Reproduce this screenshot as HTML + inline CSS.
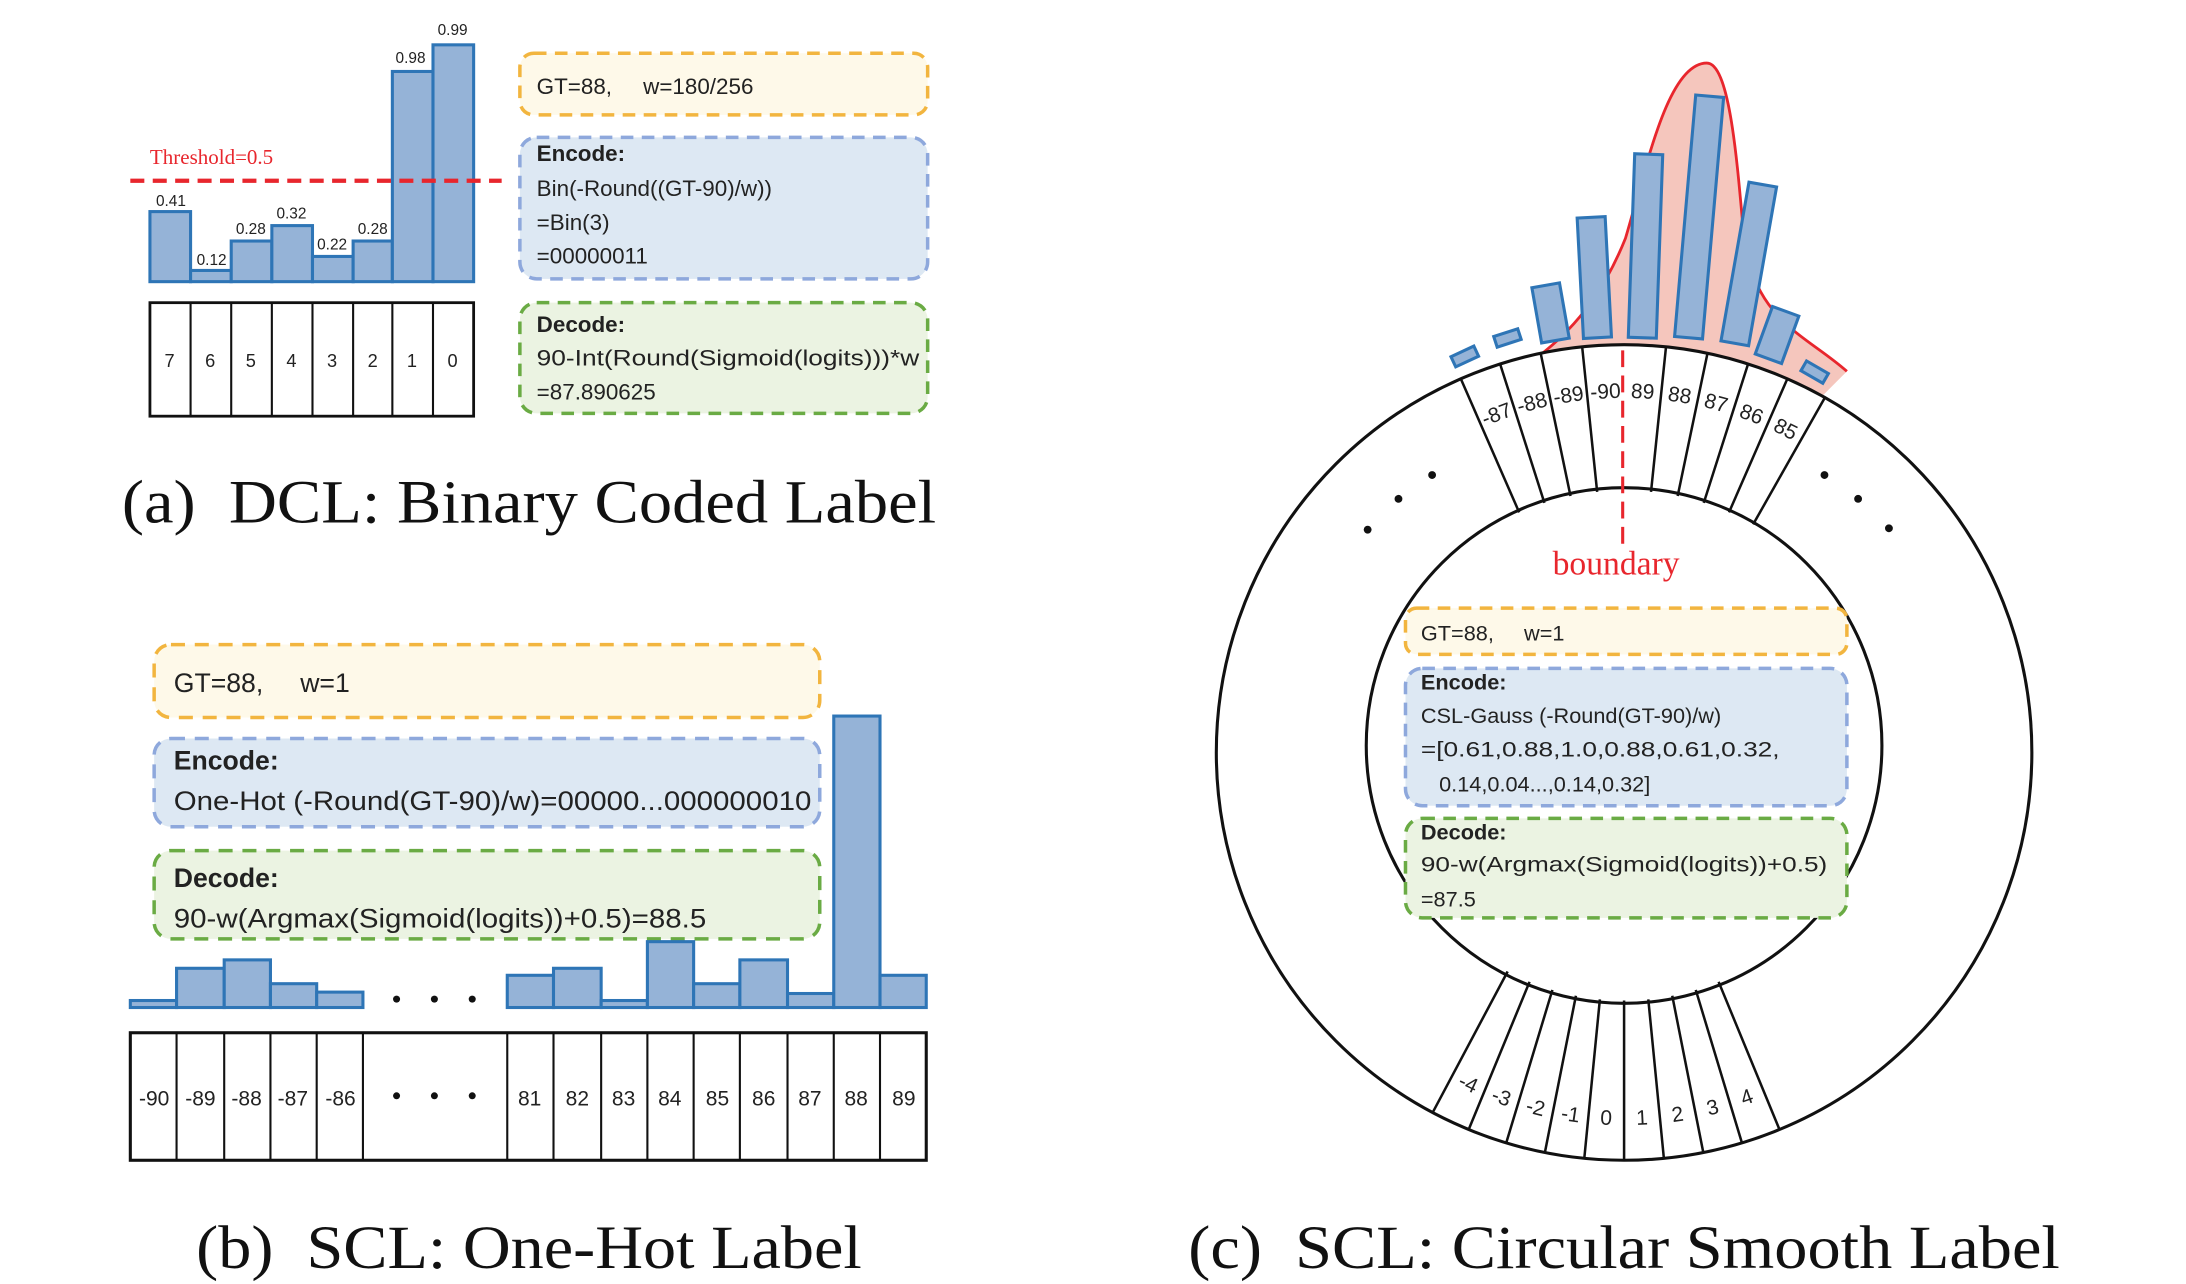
<!DOCTYPE html>
<html><head><meta charset="utf-8"><style>
html,body{margin:0;padding:0;background:#fff;}
svg{display:block;}
.c{font-family:"Liberation Sans",sans-serif;fill:#222;}
.s{font-family:"Liberation Serif",serif;fill:#111;}
</style></head><body>
<svg width="2186" height="1284" viewBox="0 0 1560 916.3" preserveAspectRatio="none" xmlns="http://www.w3.org/2000/svg">
<rect width="1560" height="917" fill="#fff"/>
<!-- (a) -->
<g fill="#95b3d7" stroke="#2e75b6" stroke-width="2.2">
<rect x="107" y="151" width="29" height="50"/>
<rect x="136" y="193" width="29" height="8"/>
<rect x="165" y="172" width="29" height="29"/>
<rect x="194" y="161" width="29" height="40"/>
<rect x="223" y="183" width="29" height="18"/>
<rect x="252" y="172" width="28" height="29"/>
<rect x="280" y="51" width="29" height="150"/>
<rect x="309" y="32" width="29" height="169"/>
</g>
<g class="c" font-size="11" text-anchor="middle">
<text x="122" y="147">0.41</text><text x="151" y="189">0.12</text><text x="179" y="167">0.28</text><text x="208" y="156">0.32</text><text x="237" y="178">0.22</text><text x="266" y="167">0.28</text><text x="293" y="45">0.98</text><text x="323" y="25">0.99</text>
</g>
<line x1="93" y1="129" x2="358" y2="129" stroke="#e8262d" stroke-width="3" stroke-dasharray="10,6"/>
<text x="107" y="117" font-family="Liberation Serif,serif" font-size="15" fill="#e8262d">Threshold=0.5</text>
<rect x="107" y="216" width="231" height="81" fill="none" stroke="#111" stroke-width="2"/>
<g stroke="#111" stroke-width="1.5"><line x1="136" y1="216" x2="136" y2="297"/><line x1="165" y1="216" x2="165" y2="297"/><line x1="194" y1="216" x2="194" y2="297"/><line x1="223" y1="216" x2="223" y2="297"/><line x1="252" y1="216" x2="252" y2="297"/><line x1="280" y1="216" x2="280" y2="297"/><line x1="309" y1="216" x2="309" y2="297"/></g>
<g class="c" font-size="13" text-anchor="middle"><text x="121" y="262">7</text><text x="150" y="262">6</text><text x="179" y="262">5</text><text x="208" y="262">4</text><text x="237" y="262">3</text><text x="266" y="262">2</text><text x="294" y="262">1</text><text x="323" y="262">0</text></g>
<rect x="371" y="38" width="291" height="44" rx="10" fill="#fef9e9" stroke="#f2b53f" stroke-width="2.5" stroke-dasharray="9,6"/>
<rect x="371" y="98" width="291" height="101" rx="12" fill="#dde8f3" stroke="#8ea8dc" stroke-width="2.5" stroke-dasharray="9,6"/>
<rect x="371" y="216" width="291" height="79" rx="12" fill="#ebf3e2" stroke="#6aab44" stroke-width="2.5" stroke-dasharray="9,6"/>
<g class="c" font-size="16">
<text x="383" y="67">GT=88,&#160;&#160;&#160;&#160;&#160;w=180/256</text>
<text x="383" y="115" font-weight="bold">Encode:</text>
<text x="383" y="140">Bin(-Round((GT-90)/w))</text>
<text x="383" y="164">=Bin(3)</text>
<text x="383" y="188">=00000011</text>
<text x="383" y="237" font-weight="bold">Decode:</text>
<text x="383" y="261" textLength="273" lengthAdjust="spacingAndGlyphs">90-Int(Round(Sigmoid(logits)))*w</text>
<text x="383" y="285">=87.890625</text>
</g>
<text class="s" x="87" y="373" font-size="44" textLength="581" lengthAdjust="spacingAndGlyphs">(a)&#160; DCL: Binary Coded Label</text>

<!-- (b) -->
<rect x="110" y="460" width="475" height="52" rx="12" fill="#fef9e9" stroke="#f2b53f" stroke-width="2.5" stroke-dasharray="10,7"/>
<rect x="110" y="527" width="475" height="63" rx="12" fill="#dde8f3" stroke="#8ea8dc" stroke-width="2.5" stroke-dasharray="10,7"/>
<rect x="110" y="607" width="475" height="63" rx="12" fill="#ebf3e2" stroke="#6aab44" stroke-width="2.5" stroke-dasharray="10,7"/>
<g class="c" font-size="19">
<text x="124" y="494">GT=88,&#160;&#160;&#160;&#160;&#160;w=1</text>
<text x="124" y="549" font-weight="bold">Encode:</text>
<text x="124" y="578" textLength="455" lengthAdjust="spacingAndGlyphs">One-Hot (-Round(GT-90)/w)=00000...000000010</text>
<text x="124" y="633" font-weight="bold">Decode:</text>
<text x="124" y="662" textLength="380" lengthAdjust="spacingAndGlyphs">90-w(Argmax(Sigmoid(logits))+0.5)=88.5</text>
</g>
<g fill="#95b3d7" stroke="#2e75b6" stroke-width="2.2">
<rect x="93" y="714" width="33" height="5"/><rect x="126" y="691" width="34" height="28"/><rect x="160" y="685" width="33" height="34"/><rect x="193" y="702" width="33" height="17"/><rect x="226" y="708" width="33" height="11"/>
<rect x="362" y="696" width="33" height="23"/><rect x="395" y="691" width="34" height="28"/><rect x="429" y="714" width="33" height="5"/><rect x="462" y="672" width="33" height="47"/><rect x="495" y="702" width="33" height="17"/><rect x="528" y="685" width="34" height="34"/><rect x="562" y="709" width="33" height="10"/><rect x="595" y="511" width="33" height="208"/><rect x="628" y="696" width="33" height="23"/>
</g>
<g fill="#111"><circle cx="283" cy="713" r="2.5"/><circle cx="310" cy="713" r="2.5"/><circle cx="337" cy="713" r="2.5"/>
<circle cx="283" cy="782" r="2.5"/><circle cx="310" cy="782" r="2.5"/><circle cx="337" cy="782" r="2.5"/></g>
<rect x="93" y="737" width="568" height="91" fill="none" stroke="#111" stroke-width="2.2"/>
<g stroke="#111" stroke-width="1.5">
<line x1="126" y1="737" x2="126" y2="828"/><line x1="160" y1="737" x2="160" y2="828"/><line x1="193" y1="737" x2="193" y2="828"/><line x1="226" y1="737" x2="226" y2="828"/><line x1="259" y1="737" x2="259" y2="828"/>
<line x1="362" y1="737" x2="362" y2="828"/><line x1="395" y1="737" x2="395" y2="828"/><line x1="429" y1="737" x2="429" y2="828"/><line x1="462" y1="737" x2="462" y2="828"/><line x1="495" y1="737" x2="495" y2="828"/><line x1="528" y1="737" x2="528" y2="828"/><line x1="562" y1="737" x2="562" y2="828"/><line x1="595" y1="737" x2="595" y2="828"/><line x1="628" y1="737" x2="628" y2="828"/>
</g>
<g class="c" font-size="15" text-anchor="middle">
<text x="110" y="789">-90</text><text x="143" y="789">-89</text><text x="176" y="789">-88</text><text x="209" y="789">-87</text><text x="243" y="789">-86</text>
<text x="378" y="789">81</text><text x="412" y="789">82</text><text x="445" y="789">83</text><text x="478" y="789">84</text><text x="512" y="789">85</text><text x="545" y="789">86</text><text x="578" y="789">87</text><text x="611" y="789">88</text><text x="645" y="789">89</text>
</g>
<text class="s" x="140" y="905" font-size="44" textLength="475" lengthAdjust="spacingAndGlyphs">(b)&#160; SCL: One-Hot Label</text>

<!-- (c) -->
<path d="M1097,255 C1130,230 1148,200 1160,170 C1175,120 1190,45 1218,45 C1235,45 1240,120 1245,175 C1255,230 1290,240 1318,265 L1300,283 L1290,277 L1230,255 L1159,246 L1100,252 Z" fill="#f2b8ad" opacity="0.8"/>
<path d="M1097,255 C1130,230 1148,200 1160,170 C1175,120 1190,45 1218,45 C1235,45 1240,120 1245,175 C1255,230 1290,240 1318,265" fill="none" stroke="#e8262d" stroke-width="2"/>
<circle cx="1159" cy="537" r="291" fill="#fff" stroke="#111" stroke-width="2.2"/>
<circle cx="1159" cy="532" r="184" fill="#fff" stroke="#111" stroke-width="2.2"/>
<!-- bars on top -->
<g fill="#95b3d7" stroke="#2e75b6" stroke-width="2.2">
<rect x="1038" y="250" width="18" height="8" transform="rotate(-25 1047 258)"/>
<rect x="1068" y="237" width="18" height="8" transform="rotate(-18 1077 245)"/>
<rect x="1100" y="203" width="20" height="40" transform="rotate(-10 1110 243)"/>
<rect x="1130" y="155" width="20" height="86" transform="rotate(-3 1140 241)"/>
<rect x="1162" y="110" width="20" height="131" transform="rotate(2 1172 241)"/>
<rect x="1195" y="68" width="20" height="173" transform="rotate(5 1205 241)"/>
<rect x="1228" y="130" width="20" height="115" transform="rotate(10 1238 245)"/>
<rect x="1252" y="220" width="20" height="36" transform="rotate(20 1262 256)"/>
<rect x="1284" y="261" width="18" height="8" transform="rotate(30 1293 269)"/>
</g>
<!-- top cells -->
<g stroke="#111" stroke-width="1.8">
<line x1="1159" y1="350" x2="1159" y2="246" transform="rotate(-23.6 1159 537)"/>
<line x1="1159" y1="350" x2="1159" y2="246" transform="rotate(-17.7 1159 537)"/>
<line x1="1159" y1="350" x2="1159" y2="246" transform="rotate(-11.8 1159 537)"/>
<line x1="1159" y1="350" x2="1159" y2="246" transform="rotate(-5.9 1159 537)"/>
<line x1="1159" y1="350" x2="1159" y2="246" transform="rotate(5.9 1159 537)"/>
<line x1="1159" y1="350" x2="1159" y2="246" transform="rotate(11.8 1159 537)"/>
<line x1="1159" y1="350" x2="1159" y2="246" transform="rotate(17.7 1159 537)"/>
<line x1="1159" y1="350" x2="1159" y2="246" transform="rotate(23.6 1159 537)"/>
<line x1="1159" y1="350" x2="1159" y2="246" transform="rotate(29.5 1159 537)"/>
</g>
<g class="c" font-size="15" text-anchor="middle">
<text x="1159" y="284" transform="rotate(-20.65 1159 537)">-87</text>
<text x="1159" y="284" transform="rotate(-14.75 1159 537)">-88</text>
<text x="1159" y="284" transform="rotate(-8.85 1159 537)">-89</text>
<text x="1159" y="284" transform="rotate(-2.95 1159 537)">-90</text>
<text x="1159" y="284" transform="rotate(2.95 1159 537)">89</text>
<text x="1159" y="284" transform="rotate(8.85 1159 537)">88</text>
<text x="1159" y="284" transform="rotate(14.75 1159 537)">87</text>
<text x="1159" y="284" transform="rotate(20.65 1159 537)">86</text>
<text x="1159" y="284" transform="rotate(26.55 1159 537)">85</text>
</g>
<line x1="1158" y1="250" x2="1158" y2="390" stroke="#e8262d" stroke-width="2.2" stroke-dasharray="12,6"/>
<text x="1108" y="410" font-family="Liberation Serif,serif" font-size="24" fill="#e8262d">boundary</text>
<g fill="#111"><circle cx="976" cy="378" r="2.8"/><circle cx="998" cy="356" r="2.8"/><circle cx="1022" cy="339" r="2.8"/><circle cx="1302" cy="339" r="2.8"/><circle cx="1326" cy="356" r="2.8"/><circle cx="1348" cy="377" r="2.8"/></g>
<!-- bottom cells -->
<g stroke="#111" stroke-width="1.8">
<line x1="1159" y1="714" x2="1159" y2="828" transform="rotate(28 1159 537)"/>
<line x1="1159" y1="714" x2="1159" y2="828" transform="rotate(22.4 1159 537)"/>
<line x1="1159" y1="714" x2="1159" y2="828" transform="rotate(16.8 1159 537)"/>
<line x1="1159" y1="714" x2="1159" y2="828" transform="rotate(11.2 1159 537)"/>
<line x1="1159" y1="714" x2="1159" y2="828" transform="rotate(5.6 1159 537)"/>
<line x1="1159" y1="714" x2="1159" y2="828" transform="rotate(0 1159 537)"/>
<line x1="1159" y1="714" x2="1159" y2="828" transform="rotate(-5.6 1159 537)"/>
<line x1="1159" y1="714" x2="1159" y2="828" transform="rotate(-11.2 1159 537)"/>
<line x1="1159" y1="714" x2="1159" y2="828" transform="rotate(-16.8 1159 537)"/>
<line x1="1159" y1="714" x2="1159" y2="828" transform="rotate(-22.4 1159 537)"/>
</g>
<g class="c" font-size="15" text-anchor="middle">
<text x="1159" y="803" transform="rotate(25.2 1159 537)">-4</text>
<text x="1159" y="803" transform="rotate(19.6 1159 537)">-3</text>
<text x="1159" y="803" transform="rotate(14 1159 537)">-2</text>
<text x="1159" y="803" transform="rotate(8.4 1159 537)">-1</text>
<text x="1159" y="803" transform="rotate(2.8 1159 537)">0</text>
<text x="1159" y="803" transform="rotate(-2.8 1159 537)">1</text>
<text x="1159" y="803" transform="rotate(-8.4 1159 537)">2</text>
<text x="1159" y="803" transform="rotate(-14 1159 537)">3</text>
<text x="1159" y="803" transform="rotate(-19.6 1159 537)">4</text>
</g>
<rect x="1003" y="434" width="315" height="33" rx="8" fill="#fef9e9" stroke="#f2b53f" stroke-width="2.5" stroke-dasharray="9,6"/>
<rect x="1003" y="477" width="315" height="98" rx="12" fill="#dde8f3" stroke="#8ea8dc" stroke-width="2.5" stroke-dasharray="9,6"/>
<rect x="1003" y="584" width="315" height="71" rx="12" fill="#ebf3e2" stroke="#6aab44" stroke-width="2.5" stroke-dasharray="9,6"/>
<g class="c" font-size="15.5">
<text x="1014" y="457">GT=88,&#160;&#160;&#160;&#160;&#160;w=1</text>
<text x="1014" y="492" font-weight="bold">Encode:</text>
<text x="1014" y="516">CSL-Gauss (-Round(GT-90)/w)</text>
<text x="1014" y="540" textLength="256" lengthAdjust="spacingAndGlyphs">=[0.61,0.88,1.0,0.88,0.61,0.32,</text>
<text x="1027" y="565">0.14,0.04...,0.14,0.32]</text>
<text x="1014" y="599" font-weight="bold">Decode:</text>
<text x="1014" y="622" textLength="290" lengthAdjust="spacingAndGlyphs">90-w(Argmax(Sigmoid(logits))+0.5)</text>
<text x="1014" y="647">=87.5</text>
</g>
<text class="s" x="848" y="905" font-size="44" textLength="622" lengthAdjust="spacingAndGlyphs">(c)&#160; SCL: Circular Smooth Label</text>
</svg>
</body></html>
